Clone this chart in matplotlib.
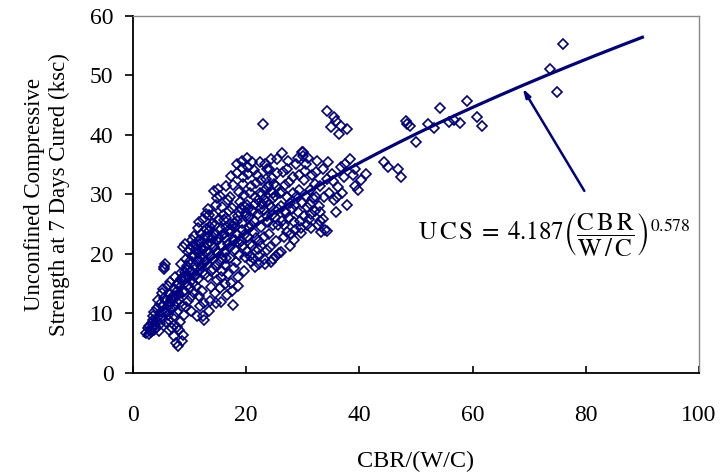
import numpy as np
import matplotlib
matplotlib.use("Agg")
import matplotlib.pyplot as plt

plt.rcParams['font.family'] = ['Liberation Serif', 'DejaVu Serif']
plt.rcParams['mathtext.fontset'] = 'stix'

# CBR/(W/C), one line per small x-bin
cbr = [
    2.3, 2.6, 2.9, 3.1, 3.3, 2.8,
    3.4, 3.6, 3.8, 3.5, 3.9, 3.7, 3.2,
    4.1, 4.3, 4.5, 4.2, 4.7, 4.4, 4.8, 4.6, 4.9,
    5.1, 5.3, 5.5, 5.2, 5.7, 5.4, 5.6, 5.5, 5.8, 5.9, 5.3,
    6.1, 6.3, 6.5, 6.2, 6.7, 6.4, 6.8, 6.6, 6.9, 6.3,
    7.1, 7.3, 7.5, 7.2, 7.7, 7.4, 7.8, 7.6, 7.9, 7.3, 7.7, 7.9,
    8.1, 8.3, 8.5, 8.2, 8.7, 8.4, 8.8, 8.6, 8.9, 8.3, 8.5, 8.9, 8.1,
    9.1, 9.3, 9.5, 9.2, 9.7, 9.4, 9.8, 9.6, 9.9, 9.3, 9.0, 9.7,
    10.1, 10.3, 10.5, 10.2, 10.7, 10.4, 10.8, 10.6, 10.9, 10.3, 10.1, 10.7, 10.5,
    11.1, 11.3, 11.5, 11.2, 11.7, 11.4, 11.8, 11.6, 11.9, 11.3, 11.1, 11.7, 11.5, 11.9,
    12.1, 12.3, 12.5, 12.2, 12.7, 12.4, 12.8, 12.6, 12.9, 12.3, 12.1, 12.7, 12.5, 12.9, 12.2,
    13.1, 13.3, 13.5, 13.2, 13.7, 13.4, 13.8, 13.6, 13.9, 13.3, 13.1, 13.7, 13.5, 13.9,
    14.1, 14.3, 14.5, 14.2, 14.7, 14.4, 14.8, 14.6, 14.9, 14.3, 14.1, 14.7, 14.5, 14.9,
    15.1, 15.3, 15.5, 15.2, 15.7, 15.4, 15.8, 15.6, 15.9, 15.3, 15.1, 15.7, 15.5, 15.9,
    16.1, 16.3, 16.5, 16.2, 16.7, 16.4, 16.8, 16.6, 16.9, 16.3, 16.1, 16.7, 16.5,
    17.1, 17.3, 17.5, 17.2, 17.7, 17.4, 17.8, 17.6, 17.9, 17.3, 17.1, 17.7, 17.5,
    18.1, 18.3, 18.5, 18.2, 18.7, 18.4, 18.8, 18.6, 18.9, 18.3, 18.1, 18.7, 18.5,
    19.1, 19.3, 19.5, 19.2, 19.7, 19.4, 19.8, 19.6, 19.9, 19.3, 19.1, 19.7, 19.5,
    20.1, 20.3, 20.5, 20.2, 20.7, 20.4, 20.8, 20.6, 20.9, 20.3, 20.1, 20.7, 20.5,
    21.1, 21.3, 21.5, 21.2, 21.7, 21.4, 21.8, 21.6, 21.9, 21.3, 21.1,
    22.1, 22.3, 22.5, 22.2, 22.7, 22.4, 22.9, 22.6, 22.8, 22.3, 22.1, 22.7,
    23.1, 23.3, 23.5, 23.2, 23.7, 23.4, 23.8, 23.6, 23.9, 23.3, 23.1, 23.7,
    24.1, 24.3, 24.5, 24.2, 24.7, 24.4, 24.8, 24.6, 24.9, 24.3, 24.1, 24.7,
    25.1, 25.3, 25.5, 25.2, 25.7, 25.4, 25.8, 25.6, 25.9, 25.3, 25.1,
    26.1, 26.3, 26.5, 26.2, 26.7, 26.4, 26.8, 26.6, 26.9, 26.3,
    27.1, 27.3, 27.5, 27.2, 27.7, 27.4, 27.8, 27.6, 27.9, 27.3,
    28.1, 28.3, 28.5, 28.2, 28.7, 28.4, 28.8, 28.6, 28.9,
    29.1, 29.3, 29.5, 29.2, 29.7, 29.4, 29.8, 29.6, 29.9,
    30.1, 30.1, 30.3, 30.5, 30.2, 30.7, 30.4, 30.8, 30.6, 31.0,
    31.1, 31.3, 31.5, 31.2, 31.7, 31.4, 31.8,
    32.1, 32.3, 32.6, 32.2, 32.7, 32.4, 32.8,
    33.1, 33.1, 33.5, 33.5, 33.1, 33.8, 33.3,
    34.0, 34.3, 34.5, 34.3, 34.9, 34.6, 34.2,
    35.5, 35.8, 35.8, 35.3, 35.6, 35.2,
    36.7, 36.4, 36.1, 36.7, 36.3,
    37.9, 37.0, 37.2, 37.9, 37.5,
    38.4, 39.3, 41.1, 40.2, 39.3, 39.7, 38.8,
    44.3, 45.0, 46.8, 47.3, 48.2, 48.5, 49.0, 50.0, 52.1, 53.1,
    54.2, 55.8, 56.7, 57.7, 59.0, 60.8, 61.6, 73.7, 74.9, 76.0,
    # dense core along the ridge
    6.0, 6.6, 7.0, 7.4, 7.8, 8.0, 8.4, 8.8, 9.2, 9.6,
    10.0, 10.4, 10.8, 11.2, 11.6, 12.0, 12.4, 12.8, 13.2, 13.6,
    14.0, 14.4, 14.8, 15.2, 15.6, 16.0, 16.4, 16.8, 17.2, 17.6,
    18.0, 18.4, 18.8, 19.2, 19.6, 20.0, 20.4, 20.8, 21.2, 21.6,
    22.0, 22.4, 22.8, 23.2, 23.6, 24.0, 24.4, 24.8,
]

# 7-day UCS (ksc), same order as cbr
ucs = [
    6.8, 7.5, 7.9, 7.2, 8.4, 6.5,
    7.8, 8.9, 7.3, 9.6, 8.1, 10.3, 6.9,
    7.6, 8.8, 9.4, 10.9, 11.6, 12.3, 8.2, 7.1, 10.2,
    9.1, 11.2, 12.6, 13.4, 10.4, 17.8, 18.3, 17.4, 8.6, 12.1, 14.1,
    9.8, 11.5, 13.2, 14.6, 12.4, 8.9, 10.7, 15.3, 7.6, 7.2,
    12.9, 14.1, 11.3, 9.5, 13.8, 16.2, 10.2, 5.1, 4.6, 6.3, 7.8, 15.1,
    12.2, 14.4, 16.8, 13.3, 11.2, 18.3, 21.2, 5.3, 6.4, 8.6, 15.7, 13.6, 7.2,
    13.8, 15.9, 17.3, 21.6, 12.1, 19.2, 14.8, 16.4, 18.6, 11.1, 9.8, 20.4,
    14.2, 17.2, 19.6, 12.8, 16.3, 21.4, 23.1, 15.1, 18.2, 10.4, 20.6, 13.5, 22.3,
    16.4, 18.8, 20.2, 14.6, 22.4, 24.3, 17.3, 12.9, 19.5, 9.6, 21.6, 25.4, 15.8, 11.3,
    17.9, 19.9, 22.6, 13.7, 21.1, 25.8, 16.6, 8.9, 24.2, 9.6, 23.4, 18.7, 11.7, 26.8, 20.7,
    18.4, 21.7, 23.9, 16.2, 19.6, 26.5, 14.4, 12.1, 22.5, 27.6, 20.3, 17.2, 10.5, 25.1,
    19.1, 21.2, 24.8, 17.4, 28.3, 30.6, 15.6, 11.8, 20.3, 26.6, 22.8, 18.2, 13.4, 29.4,
    20.1, 18.6, 21.5, 25.8, 27.9, 29.7, 17.2, 11.9, 23.4, 14.3, 30.9, 19.4, 16.1, 26.6,
    20.4, 22.7, 24.6, 18.1, 29.1, 31.4, 16.7, 13.1, 27.3, 14.9, 25.7, 21.6, 19.4,
    21.2, 23.9, 27.8, 19.4, 31.6, 33.1, 17.6, 11.5, 25.2, 15.2, 29.6, 22.4, 13.8,
    20.6, 23.3, 26.3, 18.7, 30.4, 33.6, 21.9, 16.2, 28.8, 35.1, 24.6, 19.8, 14.6,
    22.2, 24.1, 21.3, 34.4, 29.9, 31.8, 19.5, 17.1, 26.3, 35.6, 27.7, 23.2, 32.9,
    20.5, 22.8, 24.3, 36.1, 30.3, 33.4, 18.6, 21.6, 31.5, 34.7, 28.2, 19.7, 26.2,
    21.4, 23.6, 29.6, 19.3, 31.9, 34.1, 22.7, 17.8, 33.2, 25.5, 35.4,
    20.8, 22.2, 30.2, 18.4, 32.5, 35.5, 41.8, 24.5, 28.4, 19.6, 26.8, 21.3,
    22.9, 30.7, 32.6, 19.2, 28.8, 35.2, 25.3, 20.6, 31.4, 18.3, 27.4, 34.2,
    23.3, 30.6, 32.8, 21.2, 29.4, 35.9, 19.1, 26.6, 31.7, 18.6, 34.3, 24.8,
    29.8, 31.4, 35.9, 22.1, 27.6, 33.6, 20.2, 24.9, 30.3, 19.6, 26.2,
    28.1, 30.4, 33.7, 20.4, 24.8, 36.9, 27.2, 22.9, 31.6, 25.6,
    26.9, 29.6, 32.1, 23.7, 21.4, 35.6, 28.6, 26.1, 23.3, 34.3,
    27.6, 30.2, 25.3, 32.9, 28.3, 22.4, 35.1, 24.1, 29.8,
    27.1, 30.8, 25.6, 36.1, 23.6, 33.3, 28.6, 24.4, 37.2,
    37.2, 36.4, 26.4, 29.7, 32.5, 24.8, 33.9, 27.9, 35.2, 36.2,
    25.9, 28.4, 24.3, 30.8, 33.2, 26.7, 29.4,
    27.3, 29.6, 35.6, 31.8, 24.9, 33.8, 28.1,
    25.5, 27.0, 34.2, 25.8, 31.4, 29.5, 23.7,
    24.1, 23.8, 35.4, 44.0, 41.3, 30.2, 32.6,
    43.0, 42.3, 27.0, 32.2, 29.1, 33.4,
    41.5, 40.1, 29.5, 34.7, 31.2,
    41.0, 30.3, 32.9, 28.3, 35.1,
    35.9, 34.2, 33.4, 32.5, 31.4, 30.8, 33.3,
    35.4, 34.6, 34.2, 33.0, 42.3, 41.8, 41.5, 38.8, 41.8, 41.1,
    44.5, 42.1, 42.6, 42.0, 45.7, 43.1, 41.5, 51.1, 47.2, 55.3,
    # dense core along the ridge
    10.5, 11.9, 12.2, 13.0, 12.0, 14.9, 15.8, 16.1, 17.0, 17.9,
    16.9, 18.6, 19.9, 20.9, 19.0, 21.9, 20.8, 23.0, 22.9, 24.6,
    21.6, 23.4, 22.1, 22.7, 24.2, 23.3, 26.1, 23.9, 25.0, 24.7,
    22.4, 25.6, 27.0, 25.2, 28.1, 26.9, 27.5, 24.9, 27.2, 28.4,
    29.1, 27.6, 30.0, 29.2, 26.4, 28.3, 27.9, 30.2,
]

# fitted power law printed on the chart
fit_a = 4.187
fit_b = 0.578
fit_range = (2, 90)

navy = '#000080'

fig = plt.figure(figsize=(7.2, 4.74), dpi=100)
ax = fig.add_axes([0.1847, 0.2131, 0.7861, 0.7532])

ax.plot(cbr, ucs, 'D', ms=5.3, mfc='none', mec=navy, mew=1.2, ls='none')

cbr_fit = np.linspace(fit_range[0], fit_range[1], 200)
ax.plot(cbr_fit, fit_a * cbr_fit ** fit_b, color=navy, lw=2.3)

ax.annotate('', xy=(68.6, fit_a * 68.6 ** fit_b), xytext=(80, 30.2),
            arrowprops=dict(arrowstyle='-|>,head_length=0.5,head_width=0.15',
                            color=navy, lw=1.8))
ax.text(50.3, 23.3,
        r'$\mathrm{U\,C\,S}\;=\;4.187\left(\dfrac{\mathrm{C\,B\,R}}{\mathrm{W\,/\,C}}\right)^{0.578}$',
        fontsize=18, ha='left', va='center')

ax.set_xlim(0, 100)
ax.set_ylim(0, 60)
ax.set_xticks(range(0, 101, 20))
ax.set_yticks(range(0, 61, 10))

for s in ['left', 'bottom']:
    ax.spines[s].set_color('black')
    ax.spines[s].set_linewidth(1.3)
for s in ['top', 'right']:
    ax.spines[s].set_color('#888888')
    ax.spines[s].set_linewidth(1.0)

ax.tick_params(axis='x', direction='in', length=5, width=1.2, pad=23,
               labelsize=17, top=False)
ax.tick_params(axis='y', direction='out', length=6, width=1.2, pad=8,
               labelsize=17, right=False)

ax.set_xlabel('CBR/(W/C)', fontsize=17.5, labelpad=18)
ax.set_ylabel('Unconfined Compressive\nStrength at 7 Days Cured (ksc)',
              fontsize=16.5, labelpad=14, linespacing=1.25)

fig.savefig('out.png', dpi=100)
